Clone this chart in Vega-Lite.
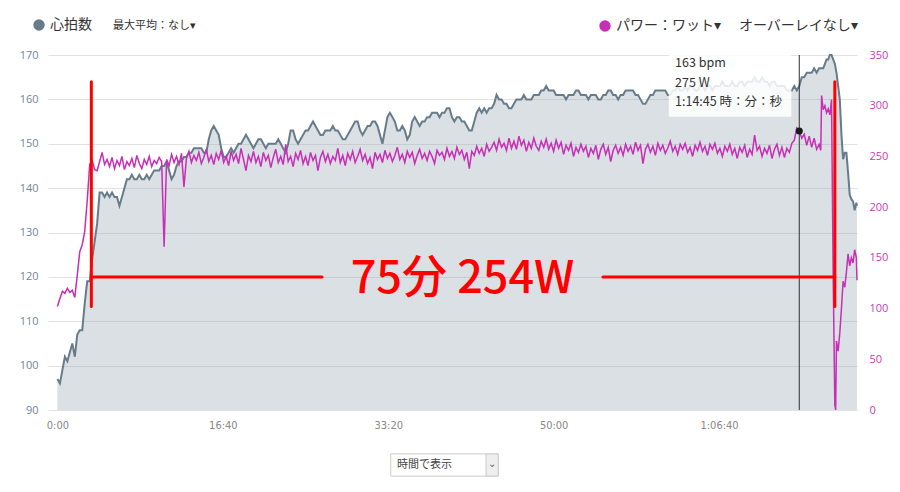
{
  "$schema": "https://vega.github.io/schema/vega-lite/v6.json",
  "width": 809,
  "height": 355,
  "autosize": "none",
  "padding": {"left": 48, "top": 55, "right": 43, "bottom": 82},
  "background": "white",
  "config": {"view": {"stroke": null}, "font": "Noto Sans CJK JP"},
  "datasets": {
    "ride": [
      {"t":0,"hr":97,"pw":102},{"t":15,"hr":96,"pw":110},{"t":30,"hr":99,"pw":117},{"t":45,"hr":102,"pw":115},{"t":60,"hr":101,"pw":120},{"t":75,"hr":103,"pw":116},{"t":90,"hr":105,"pw":118},{"t":105,"hr":102,"pw":111},{"t":120,"hr":107,"pw":133},{"t":135,"hr":108,"pw":156},{"t":150,"hr":108,"pw":163},{"t":165,"hr":114,"pw":176},{"t":180,"hr":119,"pw":206},{"t":195,"hr":119,"pw":242},{"t":210,"hr":124,"pw":246},{"t":225,"hr":128,"pw":237},{"t":240,"hr":132,"pw":236},{"t":255,"hr":139,"pw":245},{"t":270,"hr":139,"pw":254},{"t":285,"hr":138,"pw":242},{"t":300,"hr":139,"pw":247},{"t":315,"hr":138,"pw":240},{"t":330,"hr":139,"pw":249},{"t":345,"hr":138,"pw":238},{"t":360,"hr":138,"pw":246},{"t":375,"hr":136,"pw":241},{"t":390,"hr":138,"pw":250},{"t":405,"hr":140,"pw":237},{"t":420,"hr":142,"pw":245},{"t":435,"hr":142,"pw":241},{"t":450,"hr":143,"pw":248},{"t":465,"hr":142,"pw":239},{"t":480,"hr":142,"pw":251},{"t":495,"hr":143,"pw":243},{"t":510,"hr":142,"pw":238},{"t":525,"hr":142,"pw":247},{"t":540,"hr":143,"pw":242},{"t":555,"hr":142,"pw":250},{"t":570,"hr":143,"pw":240},{"t":585,"hr":144,"pw":246},{"t":600,"hr":144,"pw":243},{"t":615,"hr":144,"pw":249},{"t":630,"hr":145,"pw":245},{"t":645,"hr":145,"pw":161},{"t":660,"hr":146,"pw":247},{"t":675,"hr":144,"pw":241},{"t":690,"hr":142,"pw":252},{"t":705,"hr":143,"pw":244},{"t":720,"hr":145,"pw":250},{"t":735,"hr":146,"pw":242},{"t":750,"hr":146,"pw":253},{"t":765,"hr":147,"pw":220},{"t":780,"hr":147,"pw":248},{"t":795,"hr":148,"pw":255},{"t":810,"hr":148,"pw":244},{"t":825,"hr":149,"pw":251},{"t":840,"hr":149,"pw":246},{"t":855,"hr":149,"pw":254},{"t":870,"hr":149,"pw":243},{"t":885,"hr":148,"pw":249},{"t":900,"hr":148,"pw":257},{"t":915,"hr":151,"pw":245},{"t":930,"hr":153,"pw":251},{"t":945,"hr":154,"pw":242},{"t":960,"hr":153,"pw":253},{"t":975,"hr":152,"pw":247},{"t":990,"hr":149,"pw":256},{"t":1005,"hr":147,"pw":244},{"t":1020,"hr":147,"pw":250},{"t":1035,"hr":148,"pw":241},{"t":1050,"hr":149,"pw":255},{"t":1065,"hr":148,"pw":246},{"t":1080,"hr":149,"pw":252},{"t":1095,"hr":150,"pw":243},{"t":1110,"hr":150,"pw":258},{"t":1125,"hr":151,"pw":247},{"t":1140,"hr":152,"pw":236},{"t":1155,"hr":151,"pw":251},{"t":1170,"hr":150,"pw":245},{"t":1185,"hr":149,"pw":255},{"t":1200,"hr":150,"pw":244},{"t":1215,"hr":151,"pw":250},{"t":1230,"hr":151,"pw":240},{"t":1245,"hr":150,"pw":254},{"t":1260,"hr":149,"pw":246},{"t":1275,"hr":150,"pw":251},{"t":1290,"hr":150,"pw":239},{"t":1305,"hr":150,"pw":249},{"t":1320,"hr":150,"pw":257},{"t":1335,"hr":151,"pw":244},{"t":1350,"hr":150,"pw":250},{"t":1365,"hr":149,"pw":242},{"t":1380,"hr":148,"pw":262},{"t":1395,"hr":150,"pw":245},{"t":1410,"hr":153,"pw":250},{"t":1425,"hr":153,"pw":240},{"t":1440,"hr":151,"pw":253},{"t":1455,"hr":150,"pw":247},{"t":1470,"hr":151,"pw":256},{"t":1485,"hr":152,"pw":243},{"t":1500,"hr":153,"pw":250},{"t":1515,"hr":153,"pw":241},{"t":1530,"hr":154,"pw":254},{"t":1545,"hr":155,"pw":246},{"t":1560,"hr":154,"pw":251},{"t":1575,"hr":153,"pw":236},{"t":1590,"hr":152,"pw":249},{"t":1605,"hr":152,"pw":255},{"t":1620,"hr":153,"pw":245},{"t":1635,"hr":153,"pw":252},{"t":1650,"hr":153,"pw":243},{"t":1665,"hr":154,"pw":250},{"t":1680,"hr":153,"pw":246},{"t":1695,"hr":153,"pw":258},{"t":1710,"hr":152,"pw":244},{"t":1725,"hr":151,"pw":251},{"t":1740,"hr":151,"pw":241},{"t":1755,"hr":152,"pw":253},{"t":1770,"hr":153,"pw":247},{"t":1785,"hr":154,"pw":255},{"t":1800,"hr":155,"pw":244},{"t":1815,"hr":155,"pw":250},{"t":1830,"hr":153,"pw":257},{"t":1845,"hr":152,"pw":246},{"t":1860,"hr":153,"pw":252},{"t":1875,"hr":154,"pw":243},{"t":1890,"hr":154,"pw":249},{"t":1905,"hr":155,"pw":238},{"t":1920,"hr":155,"pw":254},{"t":1935,"hr":154,"pw":247},{"t":1950,"hr":152,"pw":252},{"t":1965,"hr":150,"pw":244},{"t":1980,"hr":153,"pw":256},{"t":1995,"hr":156,"pw":248},{"t":2010,"hr":157,"pw":253},{"t":2025,"hr":156,"pw":245},{"t":2040,"hr":155,"pw":251},{"t":2055,"hr":153,"pw":259},{"t":2070,"hr":153,"pw":247},{"t":2085,"hr":154,"pw":252},{"t":2100,"hr":153,"pw":244},{"t":2115,"hr":151,"pw":255},{"t":2130,"hr":152,"pw":249},{"t":2145,"hr":155,"pw":254},{"t":2160,"hr":156,"pw":243},{"t":2175,"hr":155,"pw":251},{"t":2190,"hr":154,"pw":257},{"t":2205,"hr":155,"pw":248},{"t":2220,"hr":155,"pw":253},{"t":2235,"hr":156,"pw":246},{"t":2250,"hr":156,"pw":255},{"t":2265,"hr":157,"pw":250},{"t":2280,"hr":157,"pw":243},{"t":2295,"hr":157,"pw":256},{"t":2310,"hr":156,"pw":251},{"t":2325,"hr":157,"pw":254},{"t":2340,"hr":157,"pw":247},{"t":2355,"hr":158,"pw":258},{"t":2370,"hr":158,"pw":250},{"t":2385,"hr":156,"pw":255},{"t":2400,"hr":155,"pw":248},{"t":2415,"hr":156,"pw":259},{"t":2430,"hr":156,"pw":252},{"t":2445,"hr":155,"pw":256},{"t":2460,"hr":155,"pw":247},{"t":2475,"hr":154,"pw":254},{"t":2490,"hr":153,"pw":238},{"t":2505,"hr":153,"pw":255},{"t":2520,"hr":155,"pw":251},{"t":2535,"hr":157,"pw":260},{"t":2550,"hr":158,"pw":253},{"t":2565,"hr":157,"pw":258},{"t":2580,"hr":158,"pw":250},{"t":2595,"hr":157,"pw":262},{"t":2610,"hr":158,"pw":255},{"t":2625,"hr":158,"pw":259},{"t":2640,"hr":159,"pw":264},{"t":2655,"hr":161,"pw":256},{"t":2670,"hr":160,"pw":267},{"t":2685,"hr":160,"pw":259},{"t":2700,"hr":159,"pw":263},{"t":2715,"hr":159,"pw":256},{"t":2730,"hr":158,"pw":268},{"t":2745,"hr":158,"pw":258},{"t":2760,"hr":159,"pw":265},{"t":2775,"hr":160,"pw":257},{"t":2790,"hr":160,"pw":270},{"t":2805,"hr":160,"pw":261},{"t":2820,"hr":161,"pw":266},{"t":2835,"hr":160,"pw":255},{"t":2850,"hr":160,"pw":264},{"t":2865,"hr":160,"pw":258},{"t":2880,"hr":161,"pw":268},{"t":2895,"hr":161,"pw":260},{"t":2910,"hr":161,"pw":256},{"t":2925,"hr":162,"pw":265},{"t":2940,"hr":162,"pw":259},{"t":2955,"hr":163,"pw":267},{"t":2970,"hr":162,"pw":257},{"t":2985,"hr":162,"pw":263},{"t":3000,"hr":162,"pw":255},{"t":3015,"hr":161,"pw":266},{"t":3030,"hr":161,"pw":258},{"t":3045,"hr":161,"pw":264},{"t":3060,"hr":161,"pw":252},{"t":3075,"hr":160,"pw":261},{"t":3090,"hr":161,"pw":256},{"t":3105,"hr":161,"pw":263},{"t":3120,"hr":161,"pw":250},{"t":3135,"hr":162,"pw":259},{"t":3150,"hr":162,"pw":254},{"t":3165,"hr":161,"pw":262},{"t":3180,"hr":161,"pw":255},{"t":3195,"hr":161,"pw":260},{"t":3210,"hr":160,"pw":249},{"t":3225,"hr":161,"pw":258},{"t":3240,"hr":161,"pw":253},{"t":3255,"hr":161,"pw":261},{"t":3270,"hr":160,"pw":247},{"t":3285,"hr":160,"pw":257},{"t":3300,"hr":161,"pw":262},{"t":3315,"hr":161,"pw":252},{"t":3330,"hr":162,"pw":259},{"t":3345,"hr":162,"pw":245},{"t":3360,"hr":161,"pw":256},{"t":3375,"hr":161,"pw":261},{"t":3390,"hr":160,"pw":253},{"t":3405,"hr":161,"pw":259},{"t":3420,"hr":161,"pw":251},{"t":3435,"hr":162,"pw":262},{"t":3450,"hr":162,"pw":255},{"t":3465,"hr":162,"pw":260},{"t":3480,"hr":162,"pw":252},{"t":3495,"hr":161,"pw":264},{"t":3510,"hr":161,"pw":256},{"t":3525,"hr":160,"pw":261},{"t":3540,"hr":159,"pw":243},{"t":3555,"hr":159,"pw":257},{"t":3570,"hr":160,"pw":262},{"t":3585,"hr":161,"pw":254},{"t":3600,"hr":161,"pw":260},{"t":3615,"hr":162,"pw":251},{"t":3630,"hr":162,"pw":263},{"t":3645,"hr":162,"pw":256},{"t":3660,"hr":162,"pw":261},{"t":3675,"hr":162,"pw":253},{"t":3690,"hr":161,"pw":258},{"t":3705,"hr":161,"pw":265},{"t":3720,"hr":162,"pw":255},{"t":3735,"hr":162,"pw":260},{"t":3750,"hr":163,"pw":252},{"t":3765,"hr":162,"pw":262},{"t":3780,"hr":162,"pw":257},{"t":3795,"hr":163,"pw":263},{"t":3810,"hr":162,"pw":254},{"t":3825,"hr":163,"pw":259},{"t":3840,"hr":163,"pw":250},{"t":3855,"hr":162,"pw":261},{"t":3870,"hr":162,"pw":256},{"t":3885,"hr":163,"pw":264},{"t":3900,"hr":163,"pw":255},{"t":3915,"hr":162,"pw":260},{"t":3930,"hr":163,"pw":251},{"t":3945,"hr":163,"pw":262},{"t":3960,"hr":162,"pw":257},{"t":3975,"hr":163,"pw":263},{"t":3990,"hr":163,"pw":253},{"t":4005,"hr":163,"pw":258},{"t":4020,"hr":164,"pw":250},{"t":4035,"hr":163,"pw":260},{"t":4050,"hr":163,"pw":255},{"t":4065,"hr":163,"pw":262},{"t":4080,"hr":164,"pw":252},{"t":4095,"hr":163,"pw":258},{"t":4110,"hr":163,"pw":248},{"t":4125,"hr":164,"pw":259},{"t":4140,"hr":164,"pw":254},{"t":4155,"hr":163,"pw":261},{"t":4170,"hr":164,"pw":249},{"t":4185,"hr":164,"pw":257},{"t":4200,"hr":164,"pw":252},{"t":4215,"hr":165,"pw":271},{"t":4230,"hr":164,"pw":256},{"t":4245,"hr":164,"pw":260},{"t":4260,"hr":165,"pw":250},{"t":4275,"hr":164,"pw":258},{"t":4290,"hr":164,"pw":253},{"t":4305,"hr":163,"pw":261},{"t":4320,"hr":164,"pw":248},{"t":4335,"hr":164,"pw":257},{"t":4350,"hr":163,"pw":262},{"t":4365,"hr":163,"pw":251},{"t":4380,"hr":163,"pw":259},{"t":4395,"hr":163,"pw":249},{"t":4410,"hr":162,"pw":258},{"t":4425,"hr":162,"pw":254},{"t":4440,"hr":162,"pw":263},{"t":4455,"hr":163,"pw":266},{"t":4470,"hr":162,"pw":278},{"t":4485,"hr":163,"pw":275},{"t":4500,"hr":165,"pw":268},{"t":4515,"hr":165,"pw":272},{"t":4530,"hr":166,"pw":261},{"t":4545,"hr":166,"pw":270},{"t":4560,"hr":166,"pw":259},{"t":4575,"hr":167,"pw":268},{"t":4590,"hr":166,"pw":257},{"t":4605,"hr":167,"pw":262},{"t":4615,"hr":167,"pw":256},{"t":4620,"hr":167,"pw":310},{"t":4630,"hr":167,"pw":296},{"t":4640,"hr":168,"pw":300},{"t":4650,"hr":169,"pw":293},{"t":4660,"hr":169,"pw":297},{"t":4670,"hr":170,"pw":291},{"t":4680,"hr":170,"pw":306},{"t":4690,"hr":169,"pw":132},{"t":4700,"hr":168,"pw":5},{"t":4705,"hr":167,"pw":0},{"t":4710,"hr":166,"pw":68},{"t":4720,"hr":163,"pw":58},{"t":4730,"hr":160,"pw":76},{"t":4740,"hr":152,"pw":100},{"t":4750,"hr":146.5,"pw":127},{"t":4760,"hr":148,"pw":121},{"t":4770,"hr":148,"pw":136},{"t":4780,"hr":143.5,"pw":154},{"t":4790,"hr":138.5,"pw":142},{"t":4800,"hr":137.5,"pw":150},{"t":4810,"hr":137,"pw":145},{"t":4820,"hr":135,"pw":158},{"t":4830,"hr":136.7,"pw":150},{"t":4834,"hr":136,"pw":128}
    ],
    "redrules": [
      {"t":205,"t2":205,"y1":164,"y2":113.3},
      {"t":4700,"t2":4700,"y1":164,"y2":113.3},
      {"t":205,"t2":1600,"y1":120,"y2":120},
      {"t":3298,"t2":4700,"y1":120,"y2":120}
    ],
    "redtext": [{"t":2449,"y":119.6,"text":"75分 254W"}],
    "tipbox": [{"t":3696,"t2":4437,"y1":170,"y2":156.1}],
    "tiptext": [
      {"t":3734,"y":168.1,"text":"163 bpm"},
      {"t":3734,"y":163.8,"text":"275 W"},
      {"t":3734,"y":159.5,"text":"1:14:45 時：分：秒"}
    ],
    "marker": [{"t":4485,"pw":275}],
    "uibox": [{"t":2015,"t2":2665,"y1":80.1,"y2":75.1}],
    "uiarrow": [{"t":2591,"t2":2665,"y1":80.1,"y2":75.1}],
    "uitext": [{"t":2053,"y":77.6,"text":"時間で表示"}],
    "uichev": [{"t":2628,"y":77.9,"text":"⌄"}]
  },
  "encoding": {
    "x": {
      "field": "t",
      "type": "quantitative",
      "scale": {"domain": [-57, 4834], "nice": false, "zero": false},
      "axis": {
        "values": [0, 1000, 2000, 3000, 4000],
        "labelExpr": "datum.value >= 3600 ? floor(datum.value/3600) + ':' + format(floor((datum.value%3600)/60), '02d') + ':' + format(datum.value%60, '02d') : floor(datum.value/60) + ':' + format(datum.value%60, '02d')",
        "grid": false, "domain": false, "ticks": false,
        "labelPadding": 9, "labelColor": "#888888",
        "labelFont": "Liberation Sans Narrow, DejaVu Sans Condensed, sans-serif",
        "labelFontSize": 11, "labelFlush": false, "labelOverlap": false,
        "title": null
      }
    }
  },
  "layer": [
    {
      "data": {"name": "ride"},
      "layer": [
        {
          "mark": {"type": "area", "color": "#8898a8", "opacity": 0.3},
          "encoding": {
            "y": {
              "field": "hr", "type": "quantitative",
              "scale": {"domain": [90, 170], "nice": false, "zero": false},
              "axis": {
                "orient": "left",
                "values": [90, 100, 110, 120, 130, 140, 150, 160, 170],
                "grid": true, "gridColor": "#e2e2e2", "gridWidth": 1,
                "domain": false, "ticks": false, "labelPadding": 10,
                "labelColor": "#74859a", "labelFont": "Open Sans", "labelFontSize": 11,
                "labelOverlap": false, "title": null
              }
            },
            "y2": {"datum": 90}
          }
        },
        {
          "mark": {"type": "line", "strokeWidth": 2},
          "encoding": {
            "y": {"field": "hr", "type": "quantitative", "scale": {"domain": [90, 170], "nice": false, "zero": false}},
            "color": {
              "datum": "心拍数", "type": "nominal",
              "scale": {"domain": ["心拍数", "最大平均：なし▾"], "range": ["#677c8b", "#ffffff"]},
              "legend": {
                "orient": "none", "legendX": -15, "legendY": -36,
                "direction": "horizontal", "title": null,
                "symbolType": "circle", "symbolSize": 130, "symbolStrokeWidth": 0,
                "labelFont": "Noto Sans CJK JP", "labelFontSize": 14, "labelColor": "#333333",
                "labelOffset": 5, "columnPadding": 4, "labelLimit": 300,
                "encode": {
                  "symbols": {"update": {"fill": {"signal": "datum.value === '心拍数' ? '#677c8b' : 'transparent'"}, "stroke": {"value": "transparent"}, "opacity": {"value": 1}}},
                  "labels": {"update": {"fontSize": {"signal": "datum.value === '心拍数' ? 14 : 11"}}}
                }
              }
            }
          }
        }
      ]
    },
    {
      "layer": [
        {
          "data": {"name": "ride"},
          "mark": {"type": "line", "strokeWidth": 1.5},
          "encoding": {
            "y": {
              "field": "pw", "type": "quantitative",
              "scale": {"domain": [0, 350], "nice": false},
              "axis": {
                "orient": "right",
                "values": [0, 50, 100, 150, 200, 250, 300, 350],
                "grid": false, "domain": false, "ticks": false, "labelPadding": 12,
                "labelColor": "#c63db5", "labelFont": "Open Sans", "labelFontSize": 11,
                "labelOverlap": false, "title": null
              }
            },
            "color": {
              "datum": "パワー：ワット▾", "type": "nominal",
              "scale": {"domain": ["パワー：ワット▾", "オーバーレイなし▾"], "range": ["#c62fb6", "#ffffff"]},
              "legend": {
                "orient": "none", "legendX": 550, "legendY": -36,
                "direction": "horizontal", "title": null,
                "symbolType": "circle", "symbolSize": 130, "symbolStrokeWidth": 0,
                "labelFont": "Noto Sans CJK JP", "labelFontSize": 14, "labelColor": "#333333",
                "labelOffset": 4, "columnPadding": 0, "labelLimit": 300,
                "encode": {
                  "symbols": {"update": {"fill": {"signal": "datum.value === 'パワー：ワット▾' ? '#c62fb6' : 'transparent'"}, "stroke": {"value": "transparent"}, "opacity": {"value": 1}}}
                }
              }
            }
          }
        },
        {
          "data": {"name": "marker"},
          "mark": {"type": "rule", "color": "#333333", "strokeWidth": 1}
        },
        {
          "data": {"name": "marker"},
          "mark": {"type": "point", "filled": true, "size": 50, "color": "#1a1a1a", "opacity": 1},
          "encoding": {
            "y": {"field": "pw", "type": "quantitative", "scale": {"domain": [0, 350], "nice": false}}
          }
        }
      ]
    },
    {
      "layer": [
        {
          "data": {"name": "tipbox"},
          "mark": {"type": "rect", "color": "#ffffff", "opacity": 0.85},
          "encoding": {
            "x2": {"field": "t2"},
            "y": {"field": "y1", "type": "quantitative", "scale": {"domain": [90, 170], "nice": false, "zero": false}, "axis": null},
            "y2": {"field": "y2"}
          }
        },
        {
          "data": {"name": "tiptext"},
          "mark": {"type": "text", "align": "left", "baseline": "middle", "fontSize": 12.5, "font": "Noto Sans CJK JP", "color": "#333333"},
          "encoding": {
            "y": {"field": "y", "type": "quantitative", "scale": {"domain": [90, 170], "nice": false, "zero": false}, "axis": null},
            "text": {"field": "text"}
          }
        },
        {
          "data": {"name": "redrules"},
          "mark": {"type": "rule", "color": "#ff0000", "strokeWidth": 3, "strokeCap": "round"},
          "encoding": {
            "x2": {"field": "t2"},
            "y": {"field": "y1", "type": "quantitative", "scale": {"domain": [90, 170], "nice": false, "zero": false}, "axis": null},
            "y2": {"field": "y2"}
          }
        },
        {
          "data": {"name": "redtext"},
          "mark": {"type": "text", "align": "center", "baseline": "middle", "fontSize": 45, "fontWeight": 500, "font": "Noto Sans CJK JP", "color": "#ff0000"},
          "encoding": {
            "y": {"field": "y", "type": "quantitative", "scale": {"domain": [90, 170], "nice": false, "zero": false}, "axis": null},
            "text": {"field": "text"}
          }
        },
        {
          "data": {"name": "uibox"},
          "mark": {"type": "rect", "fill": "#ffffff", "stroke": "#cccccc", "strokeWidth": 1},
          "encoding": {
            "x2": {"field": "t2"},
            "y": {"field": "y1", "type": "quantitative", "scale": {"domain": [90, 170], "nice": false, "zero": false}, "axis": null},
            "y2": {"field": "y2"}
          }
        },
        {
          "data": {"name": "uiarrow"},
          "mark": {"type": "rect", "fill": "#eeeeee", "stroke": "#cccccc", "strokeWidth": 1},
          "encoding": {
            "x2": {"field": "t2"},
            "y": {"field": "y1", "type": "quantitative", "scale": {"domain": [90, 170], "nice": false, "zero": false}, "axis": null},
            "y2": {"field": "y2"}
          }
        },
        {
          "data": {"name": "uitext"},
          "mark": {"type": "text", "align": "left", "baseline": "middle", "fontSize": 11, "font": "Noto Sans CJK JP", "color": "#444444"},
          "encoding": {
            "y": {"field": "y", "type": "quantitative", "scale": {"domain": [90, 170], "nice": false, "zero": false}, "axis": null},
            "text": {"field": "text"}
          }
        },
        {
          "data": {"name": "uichev"},
          "mark": {"type": "text", "align": "center", "baseline": "middle", "fontSize": 10, "font": "DejaVu Sans", "color": "#666666"},
          "encoding": {
            "y": {"field": "y", "type": "quantitative", "scale": {"domain": [90, 170], "nice": false, "zero": false}, "axis": null},
            "text": {"field": "text"}
          }
        }
      ]
    }
  ],
  "resolve": {"scale": {"y": "independent", "color": "independent"}}
}
